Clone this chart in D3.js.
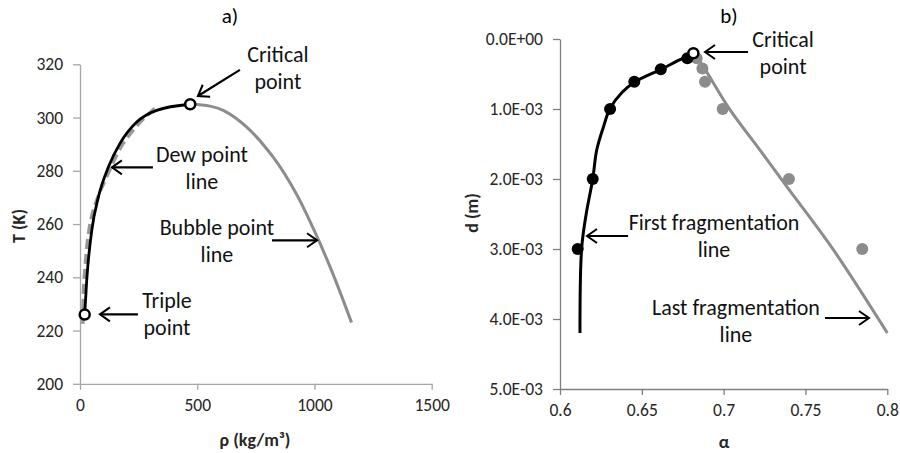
<!DOCTYPE html>
<html>
<head>
<meta charset="utf-8">
<script src="https://cdn.jsdelivr.net/npm/d3@7"></script>
<style>
  body { margin: 0; background: #fff; }
  svg { display: block; font-family: Carlito, Lato, "Liberation Sans", sans-serif; }
</style>
</head>
<body>
<div class="container"></div>
<script>
// ---- panel a) phase envelope ----
var dewRho   = [20, 28.5, 50, 78, 121, 170, 242, 327, 470];
var dewT     = [226, 238.7, 257.5, 270, 281.4, 290.2, 298.3, 302.7, 305];
var dew2Rho  = [12, 15, 23, 34, 50, 76, 125, 182, 244, 300, 333];
var dew2T    = [222.5, 235, 245, 255, 263, 270, 280, 290, 297, 302, 304.5];
var bubRho   = [470, 554, 611, 710, 824, 923, 1008, 1080, 1158];
var bubT     = [305, 304.3, 302.7, 296.5, 285.1, 271.3, 255.8, 241, 223];
var specRho  = [470, 20];   // critical, triple
var specT    = [305, 226];
var rhoTicks = [0, 500, 1000, 1500];
var tTicks   = [200, 220, 240, 260, 280, 300, 320];

// ---- panel b) fragmentation ----
var firstAlpha = [0.6122, 0.6132, 0.6160, 0.6200, 0.6224, 0.6265, 0.6306, 0.6380, 0.6460, 0.6620, 0.6720, 0.6815];
var firstD     = [4.2e-3, 3.0e-3, 2.5e-3, 2.0e-3, 1.59e-3, 1.26e-3, 0.99e-3, 0.76e-3, 0.61e-3, 0.43e-3, 0.31e-3, 0.204e-3];
var lastAlpha  = [0.6830, 0.6876, 0.7033, 0.7222, 0.7386, 0.7670, 0.8000];
var lastD      = [0.25e-3, 0.395e-3, 0.99e-3, 1.586e-3, 2.11e-3, 3.01e-3, 4.2e-3];
var firstPtAlpha = [0.6108, 0.6200, 0.6306, 0.6454, 0.6616, 0.6778];
var firstPtD     = [3.0e-3, 2.0e-3, 1.0e-3, 0.61e-3, 0.433e-3, 0.276e-3];
var lastPtAlpha  = [0.6835, 0.6870, 0.6886, 0.6994, 0.7399, 0.7847];
var lastPtD      = [0.276e-3, 0.42e-3, 0.61e-3, 1.0e-3, 2.0e-3, 3.0e-3];
var critAlpha = 0.6815, critD = 0.204e-3;
var alphaTicks = [0.6, 0.65, 0.7, 0.75, 0.8];
var alphaTickLabels = ["0.6", "0.65", "0.7", "0.75", "0.8"];
var dTicks = [0, 1e-3, 2e-3, 3e-3, 4e-3, 5e-3];
var dTickLabels = ["0.0E+00", "1.0E-03", "2.0E-03", "3.0E-03", "4.0E-03", "5.0E-03"];

// annotations in data units: text lines, text anchor, arrow from -> to
var notesA = [
  {lines: ["Critical", "point"], x: 844, y: 323.9, ax: [682, 317.9], bx: [503, 308.1]},
  {lines: ["Dew point", "line"], x: 520, y: 286.2, ax: [311, 281.3], bx: [136, 281.3]},
  {lines: ["Bubble point", "line"], x: 584, y: 258.8, ax: [819, 253.9], bx: [1011, 253.9]},
  {lines: ["Triple", "point"], x: 371, y: 231.3, ax: [247, 226.1], bx: [85, 226.1]}
];
var notesB = [
  {lines: ["Critical", "point"], x: 0.7363, y: 0.0, ax: [0.7149, 0.186e-3], bx: [0.6886, 0.186e-3]},
  {lines: ["First fragmentation", "line"], x: 0.6941, y: 2.614e-3, ax: [0.6416, 2.814e-3], bx: [0.6165, 2.814e-3]},
  {lines: ["Last fragmentation", "line"], x: 0.7075, y: 3.829e-3, ax: [0.7619, 3.986e-3], bx: [0.7888, 3.986e-3]}
];

var svg = d3.select('.container').append('svg')
    .attr('width', 900).attr('height', 453);

svg.append('defs').append('marker')
    .attr('id', 'head')
    .attr('markerUnits', 'userSpaceOnUse')
    .attr('markerWidth', 20).attr('markerHeight', 20)
    .attr('refX', 12).attr('refY', 10)
    .attr('orient', 'auto')
  .append('path')
    .attr('d', 'M2,3 L12,10 L2,17')
    .attr('fill', 'none').attr('stroke', '#000').attr('stroke-width', 2);

var tickFont = 17.5, noteFont = 22, titleFont = 18;

function drawAxes(g, x, y, xt, xl, yt, yl, axisColor){
  var ax = g.append('g').attr('transform', 'translate(0,' + y.range()[0] + ')')
      .call(d3.axisBottom(x).tickValues(xt).tickFormat(function(d, i){ return xl[i]; })
            .tickSizeInner(6).tickSizeOuter(0).tickPadding(9));
  var ay = g.append('g').attr('transform', 'translate(' + x.range()[0] + ',0)')
      .call(d3.axisLeft(y).tickValues(yt).tickFormat(function(d, i){ return yl[i]; })
            .tickSizeInner(7).tickSizeOuter(0).tickPadding(10));
  [ax, ay].forEach(function(a){
    a.select('.domain').attr('stroke', axisColor).attr('stroke-width', 1.3);
    a.selectAll('.tick line').attr('stroke', axisColor).attr('stroke-width', 1.3);
    a.selectAll('.tick text').attr('fill', '#262626')
      .style('font-size', tickFont + 'px').style('font-family', 'Carlito, Lato, sans-serif');
  });
}

function drawNotes(g, x, y, notes){
  notes.forEach(function(n){
    var t = g.append('text')
      .attr('x', x(n.x)).attr('y', y(n.y))
      .attr('text-anchor', 'middle')
      .style('font-size', noteFont + 'px').attr('fill', '#111');
    n.lines.forEach(function(s, i){
      t.append('tspan').attr('x', x(n.x)).attr('dy', i === 0 ? '0.35em' : '1.24em').text(s);
    });
    g.append('line')
      .attr('x1', x(n.ax[0])).attr('y1', y(n.ax[1]))
      .attr('x2', x(n.bx[0])).attr('y2', y(n.bx[1]))
      .attr('stroke', '#000').attr('stroke-width', 2.2)
      .attr('marker-end', 'url(#head)');
  });
}

function zip(a, b){
  return a.map(function(v, i){ return [v, b[i]]; });
}

// ---------- panel a ----------
var xA = d3.scaleLinear().domain([0, 1500]).range([80, 431.7]);
var yA = d3.scaleLinear().domain([200, 320]).range([383.8, 64.3]);
var gA = svg.append('g');
drawAxes(gA, xA, yA, rhoTicks, rhoTicks.map(String), tTicks, tTicks.map(String), '#a6a6a6');

var lineA = d3.line().x(function(d){ return xA(d[0]); }).y(function(d){ return yA(d[1]); });

gA.append('path').datum(zip(bubRho, bubT)).attr('d', lineA.curve(d3.curveCatmullRom))
  .attr('fill', 'none').attr('stroke', '#8c8c8c').attr('stroke-width', 3);
gA.append('path').datum(zip(dew2Rho, dew2T))
  .attr('d', lineA.curve(d3.curveCatmullRom))
  .attr('fill', 'none').attr('stroke', '#999').attr('stroke-width', 3.5)
  .attr('stroke-dasharray', '10,5');
gA.append('path').datum(zip(dewRho, dewT))
  .attr('d', lineA.curve(d3.curveMonotoneX))
  .attr('fill', 'none').attr('stroke', '#000').attr('stroke-width', 2.8);
gA.selectAll('circle.spec').data(zip(specRho, specT)).enter().append('circle')
  .attr('class', 'spec')
  .attr('cx', function(d){ return xA(d[0]); }).attr('cy', function(d){ return yA(d[1]); })
  .attr('r', 5).attr('fill', '#fff').attr('stroke', '#000').attr('stroke-width', 2.5);

drawNotes(gA, xA, yA, notesA);

gA.append('text').attr('x', 230).attr('y', 16).attr('dy', '0.35em')
  .attr('text-anchor', 'middle').style('font-size', '21px').text('a)');
gA.append('text').attr('transform', 'translate(19,226) rotate(-90)').attr('dy', '0.35em')
  .attr('text-anchor', 'middle').style('font-size', titleFont + 'px').style('font-weight', 'bold')
  .attr('fill', '#262626').text('T (K)');
gA.append('text').attr('x', 255).attr('y', 440).attr('dy', '0.35em')
  .attr('text-anchor', 'middle').style('font-size', titleFont + 'px').style('font-weight', 'bold')
  .attr('fill', '#262626').text('ρ (kg/m³)');

// ---------- panel b ----------
var xB = d3.scaleLinear().domain([0.6, 0.8]).range([560, 887.3]);
var yB = d3.scaleLinear().domain([0, 5e-3]).range([39, 389]);
var gB = svg.append('g');
// axes drawn with a flipped copy so the x axis sits at d = 5e-3
drawAxes(gB, xB, yB.copy().domain([5e-3, 0]).range([389, 39]), alphaTicks, alphaTickLabels, dTicks, dTickLabels, '#7f7f7f');

var lineB = d3.line().x(function(d){ return xB(d[0]); }).y(function(d){ return yB(d[1]); })
    .curve(d3.curveCatmullRom);

gB.append('path').datum(zip(lastAlpha, lastD)).attr('d', lineB)
  .attr('fill', 'none').attr('stroke', '#8c8c8c').attr('stroke-width', 3);
gB.selectAll('circle.lp').data(zip(lastPtAlpha, lastPtD)).enter().append('circle')
  .attr('class', 'lp')
  .attr('cx', function(d){ return xB(d[0]); }).attr('cy', function(d){ return yB(d[1]); })
  .attr('r', 6).attr('fill', '#8c8c8c');
gB.append('path').datum(zip(firstAlpha, firstD)).attr('d', lineB)
  .attr('fill', 'none').attr('stroke', '#000').attr('stroke-width', 3);
gB.selectAll('circle.fp').data(zip(firstPtAlpha, firstPtD)).enter().append('circle')
  .attr('class', 'fp')
  .attr('cx', function(d){ return xB(d[0]); }).attr('cy', function(d){ return yB(d[1]); })
  .attr('r', 6).attr('fill', '#000');
gB.append('circle').attr('cx', xB(critAlpha)).attr('cy', yB(critD))
  .attr('r', 5).attr('fill', '#fff').attr('stroke', '#000').attr('stroke-width', 2.5);

drawNotes(gB, xB, yB, notesB);

gB.append('text').attr('x', 729).attr('y', 16).attr('dy', '0.35em')
  .attr('text-anchor', 'middle').style('font-size', '21px').text('b)');
gB.append('text').attr('transform', 'translate(472,213) rotate(-90)').attr('dy', '0.35em')
  .attr('text-anchor', 'middle').style('font-size', titleFont + 'px').style('font-weight', 'bold')
  .attr('fill', '#262626').text('d (m)');
gB.append('text').attr('x', 724).attr('y', 442).attr('dy', '0.35em')
  .attr('text-anchor', 'middle').style('font-size', titleFont + 'px').style('font-weight', 'bold')
  .attr('fill', '#262626').text('α');
</script>
</body>
</html>
